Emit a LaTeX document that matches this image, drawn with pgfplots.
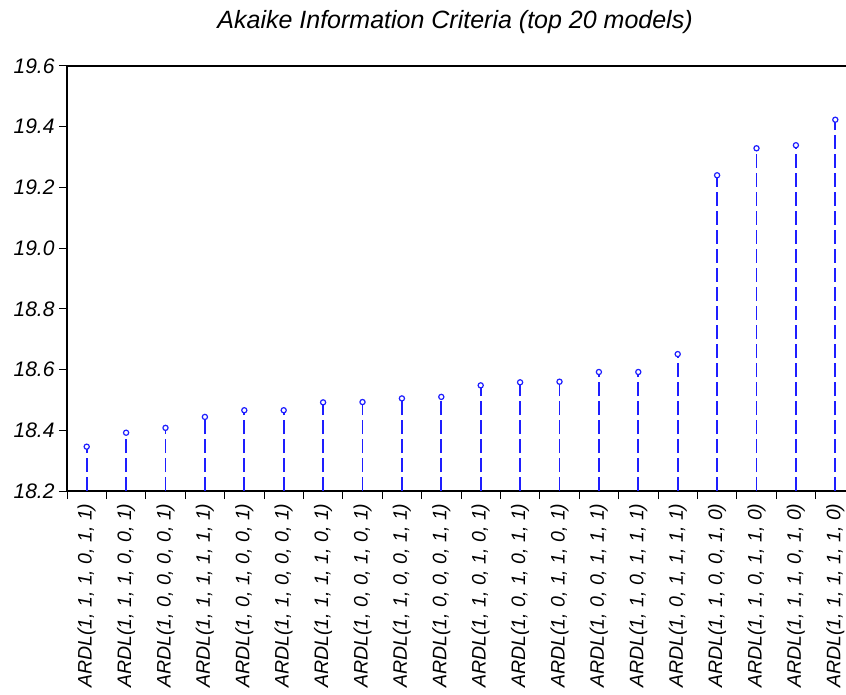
\documentclass[border=0pt]{standalone}
\usepackage{pgfplots}
\pgfplotsset{compat=1.18}
\usepackage{fontspec}
\setmainfont{Liberation Sans}
\definecolor{stemblue}{RGB}{30,30,255}
\begin{document}
\begin{tikzpicture}
\useasboundingbox (0,0) rectangle (846pt,694pt);
\begin{axis}[
  at={(67pt,203pt)}, anchor=south west,
  scale only axis, width=788pt, height=425pt,
  xmin=-0.5, xmax=19.5, ymin=18.2, ymax=19.6,
  axis line style={black, line width=1.1pt},
  tick align=outside,
  xtick pos=bottom, ytick pos=left,
  xtick={-0.5,0.5,...,19.5},
  x tick label as interval,
  xticklabels={
    {ARDL(1, 1, 1, 0, 1, 1)},
    {ARDL(1, 1, 1, 0, 0, 1)},
    {ARDL(1, 0, 0, 0, 0, 1)},
    {ARDL(1, 1, 1, 1, 1, 1)},
    {ARDL(1, 0, 1, 0, 0, 1)},
    {ARDL(1, 1, 0, 0, 0, 1)},
    {ARDL(1, 1, 1, 1, 0, 1)},
    {ARDL(1, 0, 0, 1, 0, 1)},
    {ARDL(1, 1, 0, 0, 1, 1)},
    {ARDL(1, 0, 0, 0, 1, 1)},
    {ARDL(1, 1, 0, 1, 0, 1)},
    {ARDL(1, 0, 1, 0, 1, 1)},
    {ARDL(1, 0, 1, 1, 0, 1)},
    {ARDL(1, 0, 0, 1, 1, 1)},
    {ARDL(1, 1, 0, 1, 1, 1)},
    {ARDL(1, 0, 1, 1, 1, 1)},
    {ARDL(1, 1, 0, 0, 1, 0)},
    {ARDL(1, 1, 0, 1, 1, 0)},
    {ARDL(1, 1, 1, 0, 1, 0)},
    {ARDL(1, 1, 1, 1, 1, 0)}},
  x tick style={black, line width=1pt},
  x tick label style={rotate=90, anchor=east, xshift=-1pt,
    font=\fontsize{19.5}{22}\selectfont\itshape},
  ytick={18.2,18.4,18.6,18.8,19.0,19.2,19.4,19.6},
  major tick length=8pt,
  y tick style={black, line width=1pt},
  y tick label style={font=\fontsize{21}{24}\selectfont\itshape, xshift=-1pt},
  yticklabel style={/pgf/number format/.cd, fixed, fixed zerofill, precision=1, assume math mode=true},
  title={Akaike Information Criteria (top 20 models)},
  title style={at={(axis description cs:0.4925,1)}, anchor=base, yshift=31pt,
    font=\fontsize{25}{28}\selectfont\itshape},
  clip=true,
]
\addplot[ycomb, color=stemblue, line width=1.9pt, dash pattern=on 14pt off 5pt,
  mark=*, mark size=2.6pt, mark options={solid, fill=white, draw=stemblue, line width=1.2pt}]
  coordinates {
  (0,18.346) (1,18.392) (2,18.408) (3,18.444) (4,18.466)
  (5,18.466) (6,18.492) (7,18.493) (8,18.505) (9,18.510)
  (10,18.548) (11,18.558) (12,18.560) (13,18.592) (14,18.592)
  (15,18.651) (16,19.240) (17,19.329) (18,19.339) (19,19.423)
  };
\end{axis}
\end{tikzpicture}
\end{document}
